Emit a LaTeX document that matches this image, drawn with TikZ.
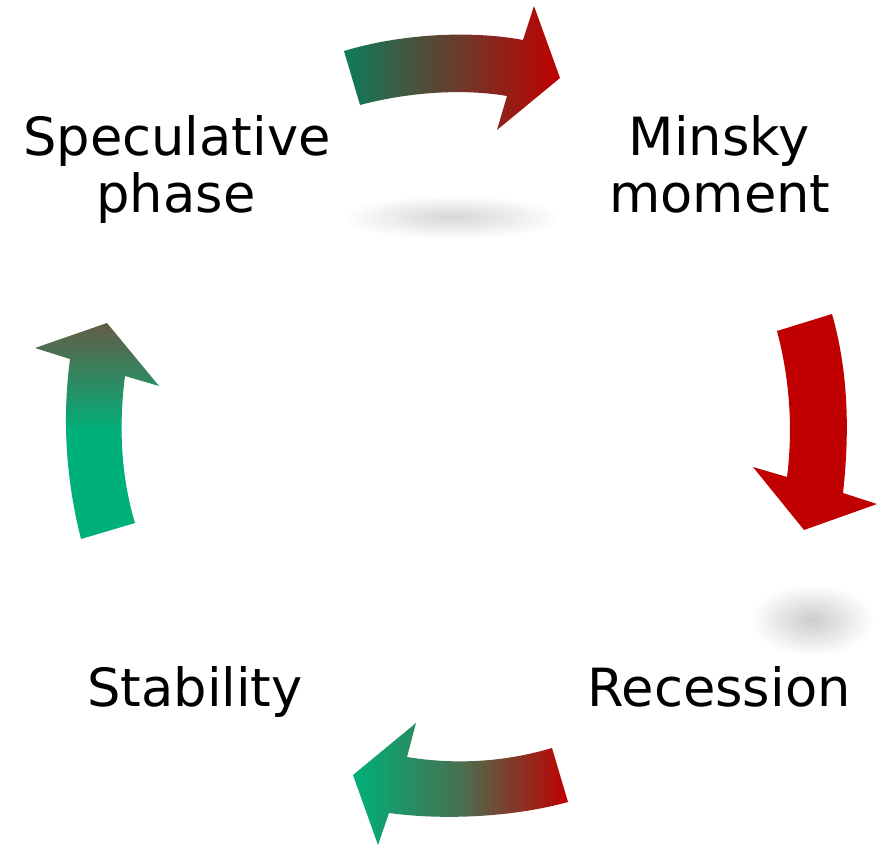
\documentclass[tikz,border=0pt]{standalone}
\usepackage{fontspec}
\setmainfont{DejaVu Sans}
\usetikzlibrary{shadings}
\definecolor{cgreen}{RGB}{0,176,122}
\definecolor{cdgreen}{RGB}{14,123,92}
\definecolor{cred}{RGB}{192,0,0}
\definecolor{cbrown}{RGB}{100,92,70}
\definecolor{colive}{RGB}{72,112,80}
\begin{document}
\begin{tikzpicture}[x=0.75pt,y=-0.75pt,
  lbl/.style={font=\fontsize{39.5}{46}\selectfont, anchor=base, inner sep=0pt, text=black},
  smudge/.style={inner color=black!16, outer color=white}]
\useasboundingbox (0,0) rectangle (879,846);
\fill[white] (0,0) rectangle (879,846);
% blurred shadows
\shade[smudge] (452,217) ellipse [x radius=110, y radius=22];
\shade[inner color=black!20, outer color=white] (812,620) ellipse [x radius=62, y radius=36];
% top arrow
\shade[left color=cdgreen, right color=cred]
  (344,51) -- (360,105) .. controls (405,93) and (460,88) .. (507,96)
  -- (497,130) -- (560,78) -- (534,6) -- (523,40)
  .. controls (470,30) and (400,34) .. cycle;
% right arrow
\fill[cred]
  (777,331) -- (832,314) .. controls (848,370) and (850,430) .. (843,493)
  -- (877,504) -- (804,530) -- (753,467) -- (787,477)
  .. controls (793,430) and (790,380) .. cycle;
% bottom arrow
\shade[left color=cgreen, right color=cred, middle color=colive]
  (568,802) -- (552,748) .. controls (505,762) and (455,765) .. (407,757)
  -- (416,723) -- (353,775) -- (378,845) -- (389,813)
  .. controls (440,820) and (510,818) .. cycle;
% left arrow
\shade[top color=cbrown, bottom color=cgreen, middle color=cgreen]
  (81,539) -- (135,523) .. controls (122,480) and (118,430) .. (125,376)
  -- (159,386) -- (107,323) -- (35,348) -- (70,359)
  .. controls (62,420) and (66,480) .. cycle;
% labels
\node[lbl] (spec1) at (177,155) {Speculative};
\node[lbl] (spec2) at (176,212) {phase};
\node[lbl] (mins1) at (719,155) {Minsky};
\node[lbl] (mins2) at (720,212) {moment};
\node[lbl] (stab) at (195,706) {Stability};
\node[lbl] (rec) at (719,706) {Recession};
\end{tikzpicture}
\end{document}
